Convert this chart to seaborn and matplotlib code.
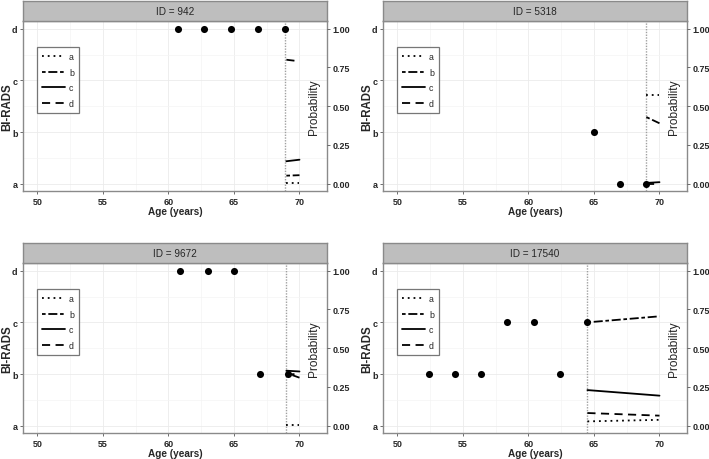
import numpy as np
import pandas as pd
import matplotlib
matplotlib.use("Agg")
import matplotlib.pyplot as plt
import seaborn as sns

sns.set_theme(style="white")
plt.rcParams['font.family'] = ['Liberation Sans', 'DejaVu Sans']

# 观测数据 (年龄, BI-RADS 等级)
panel_ids = [942, 5318, 9672, 17540]
birads_levels = ['a', 'b', 'c', 'd']

obs_age = {
    942: [60.7, 62.7, 64.8, 66.8, 68.9],
    5318: [65.0, 67.0, 69.0],
    9672: [60.9, 63.0, 65.0, 67.0, 69.1],
    17540: [52.4, 54.4, 56.4, 58.4, 60.4, 62.4, 64.5],
}
obs_birads = {
    942: ['d', 'd', 'd', 'd', 'd'],
    5318: ['b', 'a', 'a'],
    9672: ['d', 'd', 'd', 'b', 'b'],
    17540: ['b', 'b', 'b', 'c', 'c', 'b', 'c'],
}
last_visit = {942: 68.9, 5318: 69.0, 9672: 69.0, 17540: 64.5}

# 预测概率
pred_age = {
    942: [69.0, 70.0],
    5318: [69.0, 70.0],
    9672: [69.0, 70.0],
    17540: [64.5, 70.0],
}
prob_a = {942: [0.003, 0.003], 5318: [0.575, 0.575], 9672: [0.005, 0.005], 17540: [0.028, 0.038]}
prob_b = {942: [0.052, 0.055], 5318: [0.43, 0.39], 9672: [0.34, 0.31], 17540: [0.667, 0.706]}
prob_c = {942: [0.145, 0.155], 5318: [0.005, 0.01], 9672: [0.355, 0.35], 17540: [0.23, 0.194]}
prob_d = {942: [0.80, 0.79], 5318: [0.0, 0.0], 9672: [0.33, 0.335], 17540: [0.082, 0.065]}

level_y = {'a': 0.0, 'b': 1 / 3, 'c': 2 / 3, 'd': 1.0}
dash_map = {'a': (1, 2.2), 'b': (2, 1.5, 5, 1.5), 'c': '', 'd': (4.5, 3)}

W, H = 709, 460
fig = plt.figure(figsize=(W / 100, H / 100), dpi=100)

# 面板位置 (像素)
lefts = [23, 383, 23, 383]
tops = [22, 22, 264, 264]
pw, ph, sh = 304, 170, 20

border_col = '#8a8a8a'
bold = dict(fontweight='bold')

for i, pid in enumerate(panel_ids):
    l, t = lefts[i], tops[i]
    ax = fig.add_axes([l / W, 1 - (t + ph) / H, pw / W, ph / H])

    obs = pd.DataFrame({'age': obs_age[pid],
                        'y': [level_y[b] for b in obs_birads[pid]]})
    rows = []
    for lev, pr in zip(birads_levels, [prob_a, prob_b, prob_c, prob_d]):
        for a, p in zip(pred_age[pid], pr[pid]):
            rows.append({'age': a, 'prob': p, 'level': lev})
    pred = pd.DataFrame(rows)

    ax.axvline(last_visit[pid], color='#a0a0a0', ls=(0, (1, 1)), lw=1.0, zorder=1)
    sns.scatterplot(data=obs, x='age', y='y', ax=ax, color='black', s=26,
                    edgecolor='black', linewidth=0, zorder=3)
    sns.lineplot(data=pred, x='age', y='prob', style='level', style_order=birads_levels,
                 dashes=dash_map, color='black', lw=1.3, ax=ax, zorder=2)

    ax.set_xlim(48.9, 72.1)
    ax.set_ylim(-0.047, 1.05)
    ax.set_xticks([50, 55, 60, 65, 70])
    ax.set_xticks([52.5, 57.5, 62.5, 67.5], minor=True)
    ax.set_yticks([level_y[b] for b in birads_levels])
    ax.set_yticks([1 / 6, 0.5, 5 / 6], minor=True)
    ax.set_yticklabels(birads_levels, fontsize=6.5, **bold)
    ax.set_xticklabels(['50', '55', '60', '65', '70'], fontsize=6.5, **bold)
    ax.grid(which='major', color='#ebebeb', lw=0.6)
    ax.grid(which='minor', color='#f4f4f4', lw=0.5)
    ax.tick_params(which='major', length=2.5, width=0.6, color='#555555', pad=1.5, left=True, bottom=True)
    ax.tick_params(which='minor', length=0)
    for sp in ax.spines.values():
        sp.set_color(border_col)
        sp.set_linewidth(1.0)
    ax.set_xlabel('Age (years)', fontsize=7.2, labelpad=0.5, **bold)
    ax.set_ylabel('BI-RADS', fontsize=8.3, **bold)
    ax.yaxis.set_label_coords(-0.031, 0.5)

    ax2 = ax.twinx()
    ax2.set_ylim(ax.get_ylim())
    ax2.set_yticks([0, 0.25, 0.5, 0.75, 1.0])
    ax2.set_yticklabels(['0.00', '0.25', '0.50', '0.75', '1.00'], fontsize=6.5, **bold)
    ax2.tick_params(length=2.5, width=0.6, color='#555555', pad=1.5, right=True)
    ax2.grid(False)
    for sp in ax2.spines.values():
        sp.set_visible(False)
    ax.text(0.958, 0.5, 'Probability', rotation=90, transform=ax.transAxes,
            ha='center', va='center', fontsize=8.6)

    handles, labels = ax.get_legend_handles_labels()
    leg = ax.legend(handles, labels, loc='upper left', bbox_to_anchor=(0.046, 0.85),
                    borderaxespad=0, fontsize=6.3, handlelength=2.6, handletextpad=0.45,
                    labelspacing=0.78, borderpad=0.6, frameon=True, fancybox=False,
                    edgecolor='#555555')
    leg.get_frame().set_linewidth(0.9)

    # 分面标题条
    sax = fig.add_axes([l / W, 1 - t / H, pw / W, sh / H])
    sax.set_facecolor('#bebebe')
    sax.set_xticks([])
    sax.set_yticks([])
    for sp in sax.spines.values():
        sp.set_color(border_col)
        sp.set_linewidth(1.0)
    sax.text(0.5, 0.5, f'ID = {pid}', ha='center', va='center', fontsize=7.2,
             transform=sax.transAxes)

fig.savefig('out.png', dpi=100, facecolor='white')
